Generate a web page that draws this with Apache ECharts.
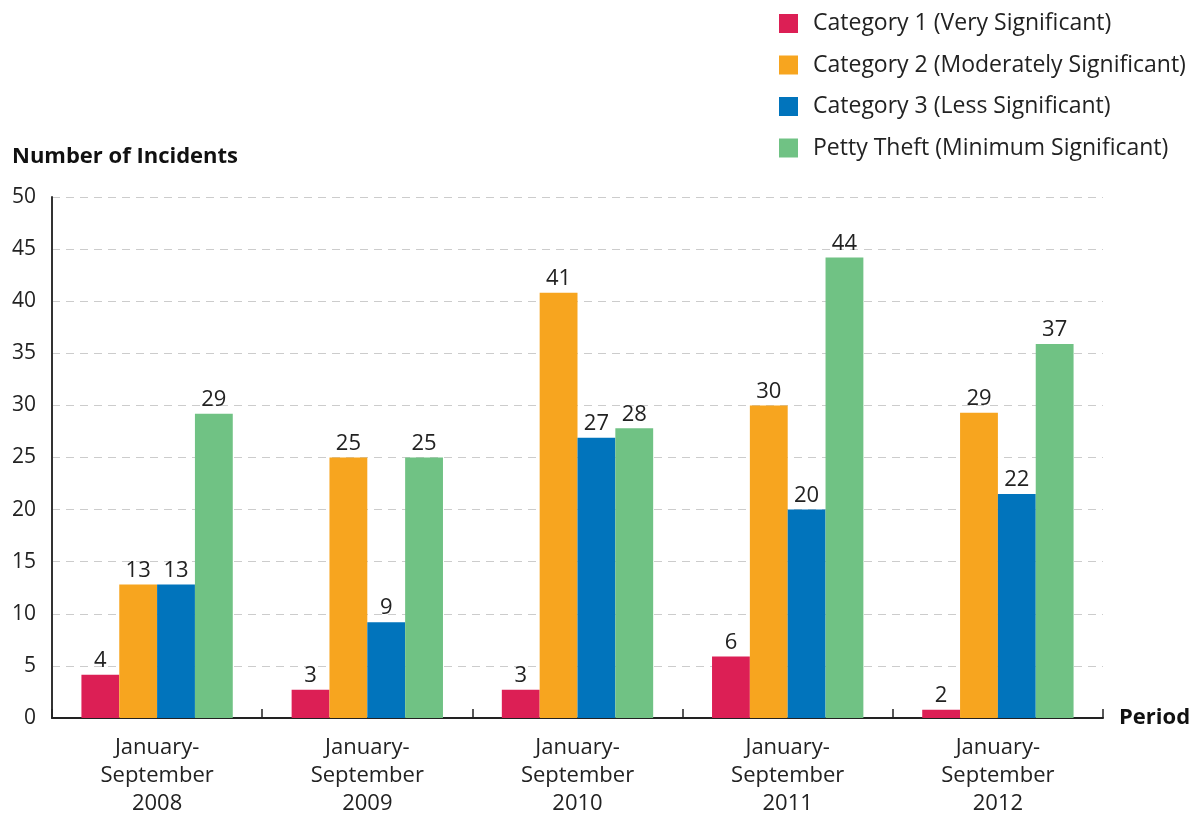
<!DOCTYPE html>
<html>
<head>
<meta charset="utf-8">
<title>Number of Incidents by Period</title>
<script src="https://cdn.jsdelivr.net/npm/echarts@6/dist/echarts.min.js"></script>
<style>
  html, body { margin: 0; padding: 0; background: #fff; }
  #chart { width: 1200px; height: 814px; }
</style>
</head>
<body>
<div id="chart"></div>
<script>
// periods on the x axis
const periods = [
  'January-\nSeptember\n2008',
  'January-\nSeptember\n2009',
  'January-\nSeptember\n2010',
  'January-\nSeptember\n2011',
  'January-\nSeptember\n2012'
]
const seriesNames = [
  'Category 1 (Very Significant)',
  'Category 2 (Moderately Significant)',
  'Category 3 (Less Significant)',
  'Petty Theft (Minimum Significant)'
]
// bar heights as drawn
const cat1 = [4.15, 2.7, 2.7, 5.9, 0.8]
const cat2 = [12.8, 25, 40.8, 30, 29.3]
const cat3 = [12.8, 9.2, 26.9, 20, 21.5]
const petty = [29.2, 25, 27.8, 44.2, 35.9]
// numbers printed above the bars
const cat1Labels = ['4', '3', '3', '6', '2']
const cat2Labels = ['13', '25', '41', '30', '29']
const cat3Labels = ['13', '9', '27', '20', '22']
const pettyLabels = ['29', '25', '28', '44', '37']
const yTicks = [0, 5, 10, 15, 20, 25, 30, 35, 40, 45, 50]

const colors = ['#DC1F55', '#F7A51F', '#0174BC', '#70C284']
const font = '"Open Sans", "Noto Sans", sans-serif'

const makeSeries = (name, data, labels, color) => ({
  name: name,
  type: 'bar',
  data: data,
  barGap: 0,
  barCategoryGap: '28%',
  itemStyle: { color: color },
  label: {
    show: true,
    position: 'top',
    distance: 3,
    color: '#222',
    fontFamily: font,
    fontSize: 22,
    formatter: p => labels[p.dataIndex]
  }
})

const myChart = echarts.init(document.getElementById('chart'))
myChart.setOption({
  animation: false,
  textStyle: { fontFamily: font },
  title: {
    text: 'Number of Incidents',
    left: 7,
    top: 141,
    textStyle: { fontSize: 22, fontWeight: 'bold', color: '#111', fontFamily: font }
  },
  legend: {
    orient: 'vertical',
    left: 774,
    top: 7,
    icon: 'rect',
    itemWidth: 19,
    itemHeight: 19,
    itemGap: 18.5,
    textStyle: { fontSize: 23, color: '#222', fontFamily: font, padding: [0, 0, 0, 10] },
    data: seriesNames
  },
  grid: { left: 52, right: 97, top: 197, bottom: 96, containLabel: false, outerBoundsMode: 'none' },
  xAxis: {
    type: 'category',
    data: periods,
    name: 'Period',
    nameLocation: 'end',
    nameGap: 16,
    nameTextStyle: { fontSize: 22, fontWeight: 'bold', color: '#111', fontFamily: font, verticalAlign: 'middle', padding: [0, 0, 14, 0] },
    axisLine: { lineStyle: { color: '#222', width: 2 } },
    axisTick: { show: true, inside: true, length: 9, lineStyle: { color: '#222', width: 1.5 } },
    axisLabel: { fontSize: 22, color: '#222', lineHeight: 28, margin: 16, fontFamily: font }
  },
  yAxis: {
    type: 'value',
    min: yTicks[0],
    max: yTicks[yTicks.length - 1],
    interval: 5,
    axisLine: { show: true, lineStyle: { color: '#333', width: 2 } },
    axisTick: { show: false },
    axisLabel: { fontSize: 21, color: '#222', margin: 16, fontFamily: font },
    splitLine: { show: true, lineStyle: { color: '#ccc', type: [8, 6], width: 1 } }
  },
  series: [
    makeSeries(seriesNames[0], cat1, cat1Labels, colors[0]),
    makeSeries(seriesNames[1], cat2, cat2Labels, colors[1]),
    makeSeries(seriesNames[2], cat3, cat3Labels, colors[2]),
    makeSeries(seriesNames[3], petty, pettyLabels, colors[3])
  ]
})
</script>
</body>
</html>
